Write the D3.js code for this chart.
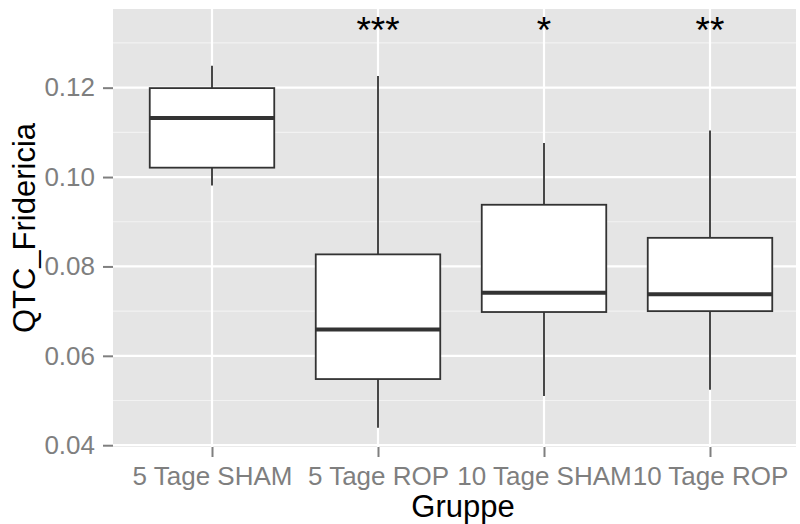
<!DOCTYPE html>
<html>
<head>
<meta charset="utf-8">
<script src="https://cdn.jsdelivr.net/npm/d3@7/dist/d3.min.js"></script>
<style>
  body { margin: 0; background: #fff; }
  svg { display: block; font-family: 'Liberation Sans', Arial, sans-serif; }
</style>
</head>
<body>
<div id="chrt"></div>
<script>
// boxplot stats
const groups = ['5 Tage SHAM', '5 Tage ROP', '10 Tage SHAM', '10 Tage ROP'];
const whiskerLow = [0.0981, 0.0439, 0.0510, 0.0524];
const q1 = [0.1021, 0.0548, 0.0698, 0.0700];
const medians = [0.1132, 0.0659, 0.0741, 0.0738];
const q3 = [0.1199, 0.0827, 0.0938, 0.0864];
const whiskerHigh = [0.1249, 0.1226, 0.1076, 0.1104];
const sigLabels = ['', '***', '*', '**'];
const sigY = 0.1345;
const yTicks = [0.04, 0.06, 0.08, 0.10, 0.12];
const yMinorTicks = [0.05, 0.07, 0.09, 0.11, 0.13];

const width = 800, height = 524;
const margin = { left: 113, top: 9, right: 4, bottom: 77 };
const innerW = width - margin.left - margin.right;
const innerH = height - margin.top - margin.bottom;

const rows = groups.map((g, i) => ({ name: g, lo: whiskerLow[i], q1: q1[i], med: medians[i], q3: q3[i], hi: whiskerHigh[i], sig: sigLabels[i] }));

const scaleX = d3.scalePoint().domain(groups).range([99, 597]);
const step = scaleX.step();
const boxW = step * 0.75;
const scaleY = d3.scaleLinear().domain([0.0396, 0.1376]).range([innerH, 0]);

const svg = d3.select('#chrt').append('svg')
    .attr('width', width)
    .attr('height', height);
const chrt = svg.append('g')
    .attr('transform', 'translate(' + margin.left + ',' + margin.top + ')');

// panel background + grid
chrt.append('rect').attr('width', innerW).attr('height', innerH).attr('fill', '#e5e5e5');
chrt.selectAll('.minor').data(yMinorTicks).enter().append('line')
    .attr('x1', 0).attr('x2', innerW)
    .attr('y1', (d) => scaleY(d)).attr('y2', (d) => scaleY(d))
    .attr('stroke', '#f2f2f2').attr('stroke-width', 1.2);
chrt.selectAll('.major').data(yTicks).enter().append('line')
    .attr('x1', 0).attr('x2', innerW)
    .attr('y1', (d) => scaleY(d)).attr('y2', (d) => scaleY(d))
    .attr('stroke', '#fff').attr('stroke-width', 2.2);
chrt.selectAll('.vmajor').data(groups).enter().append('line')
    .attr('x1', (d) => scaleX(d)).attr('x2', (d) => scaleX(d))
    .attr('y1', 0).attr('y2', innerH)
    .attr('stroke', '#fff').attr('stroke-width', 2.2);

// axes
const yAxis = d3.axisLeft(scaleY).tickValues(yTicks).tickSize(10).tickPadding(8).tickFormat(d3.format('.2f'));
const yg = chrt.append('g').call(yAxis);
const xAxis = d3.axisBottom(scaleX).tickSize(10).tickPadding(10);
const xg = chrt.append('g').attr('transform', 'translate(0,' + innerH + ')').call(xAxis);
[yg, xg].forEach((g) => {
  g.select('.domain').remove();
  g.selectAll('.tick line').attr('stroke', '#7f7f7f').attr('stroke-width', 2);
  g.selectAll('.tick text').attr('fill', '#7f7f7f').style('font-size', '26px');
});
xg.selectAll('.tick text').attr('dy', '0.71em');

// boxes
const box = chrt.selectAll('.box').data(rows).enter().append('g');
box.append('line')
    .attr('x1', (d) => scaleX(d.name)).attr('x2', (d) => scaleX(d.name))
    .attr('y1', (d) => scaleY(d.hi)).attr('y2', (d) => scaleY(d.q3))
    .attr('stroke', '#333').attr('stroke-width', 1.8);
box.append('line')
    .attr('x1', (d) => scaleX(d.name)).attr('x2', (d) => scaleX(d.name))
    .attr('y1', (d) => scaleY(d.q1)).attr('y2', (d) => scaleY(d.lo))
    .attr('stroke', '#333').attr('stroke-width', 1.8);
box.append('rect')
    .attr('x', (d) => scaleX(d.name) - boxW / 2)
    .attr('width', boxW)
    .attr('y', (d) => scaleY(d.q3))
    .attr('height', (d) => scaleY(d.q1) - scaleY(d.q3))
    .attr('fill', '#fff').attr('stroke', '#333').attr('stroke-width', 1.8);
box.append('line')
    .attr('x1', (d) => scaleX(d.name) - boxW / 2).attr('x2', (d) => scaleX(d.name) + boxW / 2)
    .attr('y1', (d) => scaleY(d.med)).attr('y2', (d) => scaleY(d.med))
    .attr('stroke', '#333').attr('stroke-width', 4);

// significance stars
chrt.selectAll('.sig').data(rows).enter().append('text')
    .attr('x', (d) => scaleX(d.name))
    .attr('y', scaleY(sigY))
    .attr('dy', '0.55em')
    .attr('text-anchor', 'middle')
    .style('font-size', '37px')
    .attr('fill', '#000')
    .text((d) => d.sig);

// axis titles (panel in the source ran past the right edge, so title sits right of centre)
svg.append('text')
    .attr('x', 463)
    .attr('y', 517)
    .attr('text-anchor', 'middle')
    .style('font-size', '31px')
    .text('Gruppe');
svg.append('text')
    .attr('transform', 'translate(35,' + (margin.top + innerH / 2) + ') rotate(-90)')
    .attr('text-anchor', 'middle')
    .style('font-size', '31px')
    .text('QTC_Fridericia');
</script>
</body>
</html>
